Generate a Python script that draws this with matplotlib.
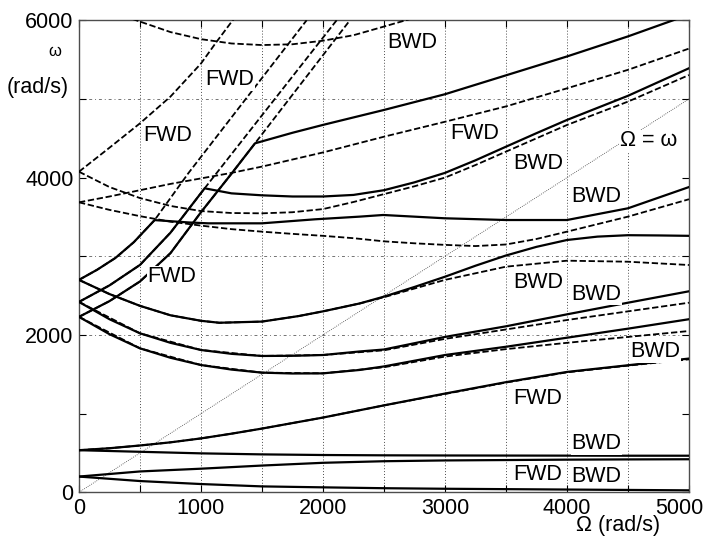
import matplotlib
matplotlib.use("Agg")
import matplotlib.pyplot as plt
import matplotlib.transforms as mtransforms
import numpy as np

plt.rcParams['font.family'] = ['Liberation Sans', 'DejaVu Sans']

# ---------------- data (Omega rad/s -> omega rad/s) ----------------
# solid curves
s_fwd_low_x = [0, 250, 500, 750, 1000, 1250, 1500, 2000, 2500, 3000, 3500, 4000, 4500, 5000]
s_fwd_low_y = [535, 560, 595, 635, 685, 745, 810, 950, 1105, 1255, 1400, 1530, 1615, 1700]
s_bwd_low_x = [0, 500, 1000, 1500, 2000, 2500, 3000, 3500, 4000, 4500, 5000]
s_bwd_low_y = [535, 515, 495, 482, 474, 470, 468, 467, 466, 465, 465]
s_fwd_200_x = [0, 500, 1000, 1500, 2000, 2500, 3000, 3500, 4000, 4500, 5000]
s_fwd_200_y = [200, 265, 300, 340, 375, 395, 405, 410, 415, 418, 420]
s_bwd_200_x = [0, 500, 1000, 1500, 2000, 2500, 3000, 3500, 4000, 4500, 5000]
s_bwd_200_y = [200, 143, 105, 75, 63, 52, 45, 40, 35, 30, 25]

b1_x = [0, 250, 500, 750, 1000, 1150, 1500, 1800, 2000, 2300, 2500, 2750, 3000, 3250, 3500, 3750, 4000, 4250, 4500, 4750, 5000]
b1_y = [2700, 2520, 2370, 2250, 2180, 2155, 2170, 2240, 2300, 2400, 2487, 2610, 2740, 2880, 3010, 3120, 3207, 3250, 3268, 3265, 3260]
b2_x = [0, 250, 500, 750, 1000, 1250, 1500, 1750, 2000, 2300, 2500, 3000, 3500, 4000, 4500, 5000]
b2_y = [2420, 2200, 2021, 1900, 1809, 1760, 1733, 1735, 1745, 1790, 1815, 1975, 2110, 2262, 2410, 2555]
b3_x = [0, 250, 500, 750, 1000, 1250, 1500, 1750, 2000, 2300, 2500, 3000, 3500, 4000, 4500, 5000]
b3_y = [2230, 2010, 1830, 1710, 1618, 1560, 1521, 1510, 1512, 1555, 1600, 1745, 1850, 1965, 2080, 2200]

f1_x = [0, 150, 300, 450, 620]
f1_y = [2700, 2830, 2980, 3180, 3460]
s_low_x = [620, 900, 1060, 1500, 1934, 2300, 2494, 3000, 3500, 4000, 4500, 5000]
s_low_y = [3460, 3430, 3419, 3419, 3470, 3504, 3525, 3483, 3461, 3461, 3610, 3880]
f2_x = [0, 250, 500, 750, 1030]
f2_y = [2420, 2630, 2890, 3300, 3864]
s_mid_x = [1030, 1250, 1500, 1750, 2000, 2250, 2500, 2750, 3000, 3250, 3500, 3750, 4000, 4500, 5000]
s_mid_y = [3864, 3800, 3775, 3760, 3760, 3780, 3840, 3940, 4060, 4220, 4393, 4565, 4733, 5040, 5390]
f3_x = [0, 250, 500, 750, 1000, 1250, 1443]
f3_y = [2230, 2430, 2680, 3040, 3560, 4050, 4436]
s_top_x = [1443, 1750, 2000, 2500, 3000, 3500, 4000, 4500, 4870, 5000]
s_top_y = [4436, 4570, 4670, 4860, 5060, 5300, 5540, 5795, 6000, 6080]

# dashed curves
d_fwd1_x = [0, 250, 500, 750, 1000, 1125, 1265]
d_fwd1_y = [4075, 4380, 4690, 5030, 5450, 5720, 6010]
d_mid_x = [0, 250, 500, 750, 1000, 1250, 1500, 1750, 2000, 2250, 2500, 2750, 3000, 3250, 3500, 4000, 4500, 5000]
d_mid_y = [4075, 3880, 3740, 3640, 3575, 3550, 3546, 3560, 3600, 3690, 3790, 3890, 4000, 4160, 4330, 4669, 4966, 5304]
d_b_x = [0, 250, 500, 750, 1000, 1250, 1500, 1750, 2000, 2500, 3000, 3500, 4000, 4500, 5000]
d_b_y = [3686, 3760, 3840, 3920, 3990, 4060, 4140, 4230, 4320, 4520, 4710, 4905, 5135, 5370, 5640]
d_c_x = [0, 250, 500, 750, 1000, 1250, 1500, 1750, 2000, 2250, 2500, 2750, 3000, 3250, 3500, 3750, 4000, 4500, 5000]
d_c_y = [3686, 3590, 3510, 3440, 3390, 3345, 3313, 3285, 3260, 3230, 3190, 3165, 3145, 3130, 3150, 3220, 3313, 3504, 3725]
d_top_x = [300, 450, 750, 1000, 1250, 1500, 1750, 2000, 2250, 2500, 2700, 2800]
d_top_y = [6100, 6010, 5850, 5760, 5705, 5685, 5695, 5740, 5810, 5920, 6010, 6060]
d_f1_x = [0, 150, 300, 450, 620, 896, 1866]
d_f1_y = [2700, 2830, 2980, 3180, 3460, 4055, 6000]
d_f2_x = [0, 250, 500, 750, 1030, 2112]
d_f2_y = [2420, 2630, 2890, 3300, 3864, 6000]
d_f3_x = [0, 250, 500, 750, 1000, 1250, 1443, 2221]
d_f3_y = [2230, 2430, 2680, 3040, 3560, 4050, 4436, 6000]
d_b1_x = [0, 250, 500, 750, 1000, 1150, 1500, 1800, 2000, 2300, 2500, 3000, 3500, 4000, 4500, 5000]
d_b1_y = [2700, 2520, 2370, 2250, 2180, 2155, 2170, 2240, 2300, 2400, 2480, 2700, 2868, 2944, 2931, 2889]
d_b2_x = [0, 500, 1000, 1500, 2000, 2500, 3000, 3500, 4000, 4500, 5000]
d_b2_y = [2420, 2021, 1809, 1733, 1745, 1805, 1950, 2070, 2190, 2300, 2410]
d_b3_x = [0, 500, 1000, 1500, 2000, 2500, 3000, 3500, 4000, 4500, 5000]
d_b3_y = [2230, 1830, 1618, 1521, 1512, 1590, 1725, 1820, 1900, 1975, 2050]
d_fwd_low_x = [0, 250, 500, 750, 1000, 1250, 1500, 2000, 2500, 3000, 3500, 4000, 4500, 5000]
d_fwd_low_y = [535, 560, 595, 635, 685, 745, 810, 950, 1105, 1250, 1395, 1525, 1610, 1690]

solid_curves = [
    (s_fwd_low_x, s_fwd_low_y), (s_bwd_low_x, s_bwd_low_y),
    (s_fwd_200_x, s_fwd_200_y), (s_bwd_200_x, s_bwd_200_y),
    (b1_x, b1_y), (b2_x, b2_y), (b3_x, b3_y),
    (f1_x + s_low_x[1:], f1_y + s_low_y[1:]),
    (f2_x + s_mid_x[1:], f2_y + s_mid_y[1:]),
    (f3_x + s_top_x[1:], f3_y + s_top_y[1:]),
]
dashed_curves = [
    (d_fwd1_x, d_fwd1_y), (d_mid_x, d_mid_y), (d_b_x, d_b_y), (d_c_x, d_c_y),
    (d_top_x, d_top_y), (d_f1_x, d_f1_y), (d_f2_x, d_f2_y), (d_f3_x, d_f3_y),
    (d_b1_x, d_b1_y), (d_b2_x, d_b2_y), (d_b3_x, d_b3_y), (d_fwd_low_x, d_fwd_low_y),
]

labels = [
    ("FWD", 1238, 5241), ("FWD", 730, 4530), ("FWD", 760, 2741),
    ("BWD", 2734, 5718), ("FWD", 3246, 4555), ("BWD", 3762, 4180),
    ("BWD", 4243, 3760), ("BWD", 3762, 2667), ("BWD", 4243, 2520),
    ("BWD", 4727, 1790), ("FWD", 3762, 1192), ("BWD", 4243, 614),
    ("FWD", 3762, 220), ("BWD", 4243, 200),
]

x_grid = list(range(500, 5000, 500))
y_grid = [2000, 3000, 5000]

# ---------------- figure ----------------
fig = plt.figure(figsize=(7.07, 5.45), dpi=100)
ax = fig.add_axes([0.1117, 0.0967, 0.8628, 0.8661])

for gx in x_grid:
    ax.axvline(gx, color='0.3', lw=0.7, ls=(0, (1, 2)), zorder=1)
for gy in y_grid:
    ax.axhline(gy, color='0.45', lw=0.7, ls=(0, (3, 3, 1, 3)), zorder=1)

ax.plot([0, 5000], [0, 5000], color='0.25', lw=0.6, ls=(0, (1, 1.5)), zorder=2)

for xs, ys in dashed_curves:
    ax.plot(xs, ys, color='black', lw=1.3, ls=(0, (3.5, 1.5)), zorder=3)
for xs, ys in solid_curves:
    ax.plot(xs, ys, color='black', lw=1.6, zorder=4)

for txt, x, y in labels:
    ax.text(x, y, txt, fontsize=15.5, ha='center', va='center', zorder=6,
            bbox=dict(facecolor='white', edgecolor='none', pad=0.5))
ax.text(4668, 4468, "Ω = ω", fontsize=15.5, ha='center', va='center', zorder=6,
        bbox=dict(facecolor='white', edgecolor='none', pad=0.5))

ax.set_xlim(0, 5000)
ax.set_ylim(0, 6000)
ax.set_xticks(np.arange(0, 5001, 500))
ax.set_xticklabels([str(v) if v % 1000 == 0 else '' for v in range(0, 5001, 500)])
ax.set_yticks(np.arange(0, 6001, 1000))
ax.set_yticklabels([str(v) if v % 2000 == 0 else '' for v in range(0, 6001, 1000)])
ax.tick_params(direction='in', top=True, right=True, labelsize=15.5, length=5, width=0.8, pad=4)
for s in ax.spines.values():
    s.set_linewidth(1.0)
    s.set_color('0.3')

# shift last x tick label left so it stays inside the figure
last = ax.get_xticklabels()[-1]
last.set_transform(last.get_transform() + mtransforms.ScaledTranslation(-10 / 100, 0, fig.dpi_scale_trans))

fig.text(55 / 707, 1 - 52 / 545, "ω", fontsize=12, ha='center', va='center')
fig.text(38 / 707, 1 - 88 / 545, "(rad/s)", fontsize=15.5, ha='center', va='center')
fig.text(618 / 707, 1 - 525 / 545, "Ω (rad/s)", fontsize=15.5, ha='center', va='center')

fig.savefig("out.png", dpi=100)
